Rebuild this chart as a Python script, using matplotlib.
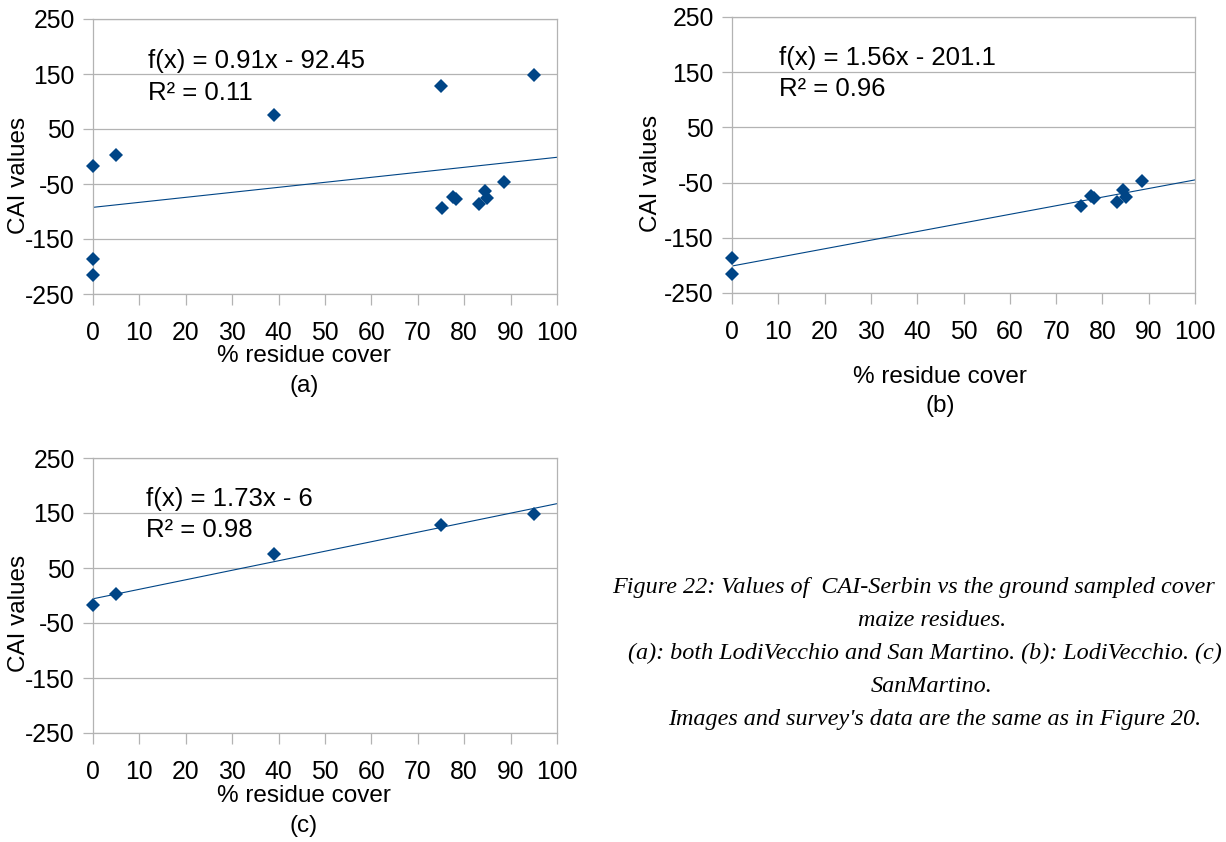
import matplotlib
matplotlib.use('Agg')
import matplotlib.pyplot as plt
import numpy as np

plt.rcParams['font.family'] = ['Liberation Sans', 'DejaVu Sans']
plt.rcParams['axes.unicode_minus'] = False

W, H, DPI = 1226, 842, 100

# ---- data ----
x_lodi = [0, 0, 75.3, 77.6, 78.2, 83.2, 84.5, 85.0, 88.5]
y_lodi = [-186.5, -215, -93, -74.5, -77, -86, -62.7, -75.7, -47]
x_sm = [0, 5, 39, 75, 95]
y_sm = [-17, 3.5, 76, 127.5, 147.5]

fit_a = (0.91, -92.45)
fit_b = (1.56, -201.1)
fit_c = (1.73, -6)

eq_a = ["f(x) = 0.91x - 92.45", "R² = 0.11"]
eq_b = ["f(x) = 1.56x - 201.1", "R² = 0.96"]
eq_c = ["f(x) = 1.73x - 6", "R² = 0.98"]

xticks = list(range(0, 101, 10))
yticks = [-250, -150, -50, 50, 150, 250]

caption = [
    "Figure 22: Values of  CAI-Serbin vs the ground sampled cover",
    "maize residues.",
    "(a): both LodiVecchio and San Martino. (b): LodiVecchio. (c)",
    "SanMartino.",
    "Images and survey's data are the same as in Figure 20.",
]

BLUE = '#004586'
GRID = '#b3b3b3'

fig = plt.figure(figsize=(W / DPI, H / DPI), dpi=DPI)


def fx(px):
    return px / W


def fy(py):
    return 1 - py / H


def make_ax(l, t, r, b):
    ax = fig.add_axes([fx(l), fy(b), (r - l) / W, (b - t) / H])
    ax.set_xlim(0, 100)
    ax.set_ylim(-250, 250)
    ax.set_xticks(xticks)
    ax.set_yticks(yticks)
    ax.grid(axis='y', color=GRID, lw=0.9)
    ax.set_axisbelow(True)
    for s in ax.spines.values():
        s.set_color(GRID)
        s.set_linewidth(0.9)
    ax.tick_params(axis='x', direction='out', length=8, width=0.9,
                   color=GRID, labelsize=17.8, pad=11.5)
    ax.tick_params(axis='y', direction='out', length=7.2, width=0.9,
                   color=GRID, labelsize=17.8, pad=6)
    return ax


def panel(ax, xs, ys, fit, eq, ann_xy, ylab_xy, xlab_xy, tag):
    xx = np.array([0, 100])
    ax.plot(xx, fit[0] * xx + fit[1], color=BLUE, lw=0.8, zorder=2)
    ax.plot(xs, ys, linestyle='none', marker='D', markersize=7,
            color=BLUE, markeredgewidth=0, clip_on=False, zorder=3)
    fig.text(fx(ann_xy[0]), fy(ann_xy[1]), eq[0], fontsize=18.5,
             ha='left', va='center')
    fig.text(fx(ann_xy[0]), fy(ann_xy[2]), eq[1], fontsize=18.5,
             ha='left', va='center')
    fig.text(fx(ylab_xy[0]), fy(ylab_xy[1]), "CAI values", fontsize=17.5,
             rotation=90, ha='center', va='center')
    fig.text(fx(xlab_xy[0]), fy(xlab_xy[1]), "% residue cover", fontsize=17.5,
             ha='center', va='center')
    fig.text(fx(xlab_xy[0]), fy(xlab_xy[2]), tag, fontsize=17.5,
             ha='center', va='center')


ax_a = make_ax(93, 19, 557, 294)
panel(ax_a, x_sm + x_lodi, y_sm + y_lodi, fit_a, eq_a,
      (148, 61, 93), (19, 175), (304, 356, 386), "(a)")

ax_b = make_ax(732, 17, 1195, 293)
panel(ax_b, x_lodi, y_lodi, fit_b, eq_b,
      (779, 58, 89), (651, 173), (940, 377, 406), "(b)")

ax_c = make_ax(93, 458, 557, 733)
panel(ax_c, x_sm, y_sm, fit_c, eq_c,
      (146, 499, 530), (19, 613), (304, 796, 826), "(c)")

# caption
cap_font = dict(family=['Liberation Serif', 'DejaVu Serif'], style='italic',
                fontsize=17.4, va='baseline')
baselines = [593, 626, 659, 692, 725]
fig.text(fx(612), fy(baselines[0]), caption[0], ha='left', **cap_font)
fig.text(fx(932), fy(baselines[1]), caption[1], ha='center', **cap_font)
fig.text(fx(628), fy(baselines[2]), caption[2], ha='left', **cap_font)
fig.text(fx(932), fy(baselines[3]), caption[3], ha='center', **cap_font)
fig.text(fx(935), fy(baselines[4]), caption[4], ha='center', **cap_font)

fig.savefig('out.png', dpi=DPI)
